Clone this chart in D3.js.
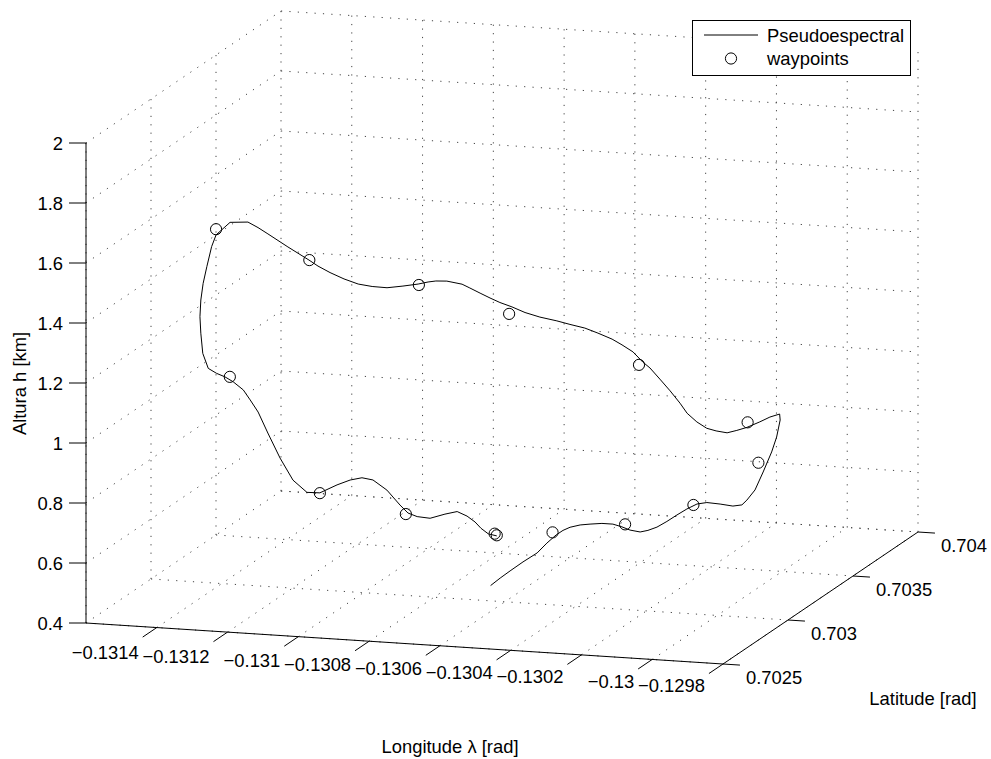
<!DOCTYPE html>
<html>
<head>
<meta charset="utf-8">
<script src="https://cdn.jsdelivr.net/npm/d3@7"></script>
<style>
  body { margin: 0; background: #fff; }
  text { font-family: "Liberation Sans", Arial, Helvetica, sans-serif; font-size: 18.4px; fill: #000; }
</style>
</head>
<body>
<svg id="chart" width="991" height="759"></svg>
<script>
// Axis limits and ticks
const lonDomain = [-0.1316, -0.1298];
const latDomain = [0.7025, 0.704];
const hDomain = [0.4, 2];
const lonTicks = [-0.1314, -0.1312, -0.131, -0.1308, -0.1306, -0.1304, -0.1302, -0.13, -0.1298];
const lonTickLabels = ["\u22120.1314", "\u22120.1312", "\u22120.131", "\u22120.1308", "\u22120.1306", "\u22120.1304", "\u22120.1302", "\u22120.13", "\u22120.1298"];
const latTicks = [0.7025, 0.703, 0.7035, 0.704];
const latTickLabels = ["0.7025", "0.703", "0.7035", "0.704"];
const hTicks = [0.4, 0.6, 0.8, 1.0, 1.2, 1.4, 1.6, 1.8, 2.0];
const hTickLabels = ["0.4", "0.6", "0.8", "1", "1.2", "1.4", "1.6", "1.8", "2"];

// Pseudospectral trajectory: longitude [rad], latitude [rad], altitude [km]
const trajLon = [-0.130622, -0.130595, -0.130567, -0.130536, -0.130496, -0.130474, -0.130448, -0.130434, -0.130414, -0.130391,
  -0.130363, -0.130335, -0.130304, -0.130284, -0.130261, -0.130238, -0.130216, -0.130196, -0.130168, -0.130145,
  -0.130117, -0.130094, -0.130066, -0.130034, -0.129998, -0.129978, -0.129964, -0.129952, -0.129940, -0.129927,
  -0.129924, -0.129925, -0.129932, -0.129965, -0.129999, -0.130041, -0.130075, -0.130108, -0.130139, -0.130171,
  -0.130199, -0.130232, -0.130252, -0.130280, -0.130309, -0.130337, -0.130357, -0.130385, -0.130416, -0.130444,
  -0.130484, -0.130521, -0.130563, -0.130600, -0.130648, -0.130690, -0.130727, -0.130761, -0.130789, -0.130817,
  -0.130846, -0.130868, -0.130911, -0.130942, -0.130964, -0.130992, -0.131035, -0.131080, -0.131122, -0.131156,
  -0.131196, -0.131230, -0.131264, -0.131284, -0.131338, -0.131389, -0.131417, -0.131440, -0.131485, -0.131519,
  -0.131526, -0.131534, -0.131539, -0.131540, -0.131537, -0.131529, -0.131518, -0.131497, -0.131468, -0.131439,
  -0.131410, -0.131376, -0.131351, -0.131323, -0.131290, -0.131250, -0.131208, -0.131163, -0.131121, -0.131067,
  -0.131030, -0.130991, -0.130960, -0.130915, -0.130878, -0.130850, -0.130824, -0.130782, -0.130740, -0.130700,
  -0.130672, -0.130644, -0.130627, -0.130601, -0.130577];
const trajLat = [0.70295, 0.70295, 0.70295, 0.702965, 0.702965, 0.70298, 0.70298, 0.702995, 0.702995, 0.70301,
  0.70301, 0.703025, 0.703025, 0.70304, 0.70304, 0.703055, 0.703055, 0.70307, 0.70307, 0.703085,
  0.703085, 0.7031, 0.7031, 0.703115, 0.703115, 0.70313, 0.70313, 0.70316, 0.70319, 0.70322,
  0.70325, 0.70328, 0.703295, 0.70331, 0.703325, 0.70334, 0.703355, 0.70337, 0.70337, 0.703385,
  0.703385, 0.7034, 0.7034, 0.7034, 0.7034, 0.7034, 0.7034, 0.7034, 0.7034, 0.7034,
  0.7034, 0.7034, 0.7034, 0.7034, 0.7034, 0.7034, 0.7034, 0.7034, 0.7034, 0.7034,
  0.7034, 0.7034, 0.7034, 0.7034, 0.7034, 0.7034, 0.7034, 0.7034, 0.7034, 0.703385,
  0.703385, 0.70337, 0.70337, 0.703355, 0.70334, 0.703325, 0.703325, 0.70331, 0.703295, 0.70328,
  0.703265, 0.70325, 0.703235, 0.70322, 0.703205, 0.70319, 0.703175, 0.70316, 0.703145, 0.70313,
  0.703115, 0.7031, 0.703085, 0.70307, 0.703055, 0.70304, 0.703025, 0.70301, 0.702995, 0.70298,
  0.70298, 0.702965, 0.702965, 0.70295, 0.70295, 0.702935, 0.702935, 0.70292, 0.70292, 0.702905,
  0.702905, 0.70289, 0.70289, 0.702875, 0.702875];
const trajH = [0.467, 0.494, 0.520, 0.548, 0.581, 0.611, 0.640, 0.652, 0.664, 0.669,
  0.674, 0.674, 0.674, 0.662, 0.653, 0.644, 0.651, 0.659, 0.680, 0.699,
  0.721, 0.735, 0.742, 0.735, 0.731, 0.732, 0.749, 0.775, 0.827, 0.886,
  0.927, 0.975, 0.990, 0.973, 0.950, 0.924, 0.907, 0.892, 0.896, 0.898,
  0.917, 0.939, 0.971, 1.010, 1.047, 1.082, 1.100, 1.132, 1.153, 1.170,
  1.187, 1.201, 1.210, 1.219, 1.228, 1.240, 1.256, 1.268, 1.281, 1.295,
  1.310, 1.321, 1.328, 1.326, 1.321, 1.312, 1.302, 1.293, 1.294, 1.304,
  1.318, 1.341, 1.360, 1.383, 1.427, 1.471, 1.490, 1.511, 1.511, 1.471,
  1.436, 1.373, 1.321, 1.270, 1.219, 1.169, 1.107, 1.063, 1.053, 1.048,
  1.038, 1.018, 0.991, 0.957, 0.894, 0.818, 0.752, 0.719, 0.725, 0.760,
  0.779, 0.794, 0.789, 0.763, 0.716, 0.696, 0.686, 0.688, 0.705, 0.721,
  0.708, 0.695, 0.675, 0.663, 0.658];

// Waypoints
const wpLon = [-0.130583, -0.130458, -0.130275, -0.130104, -0.129959, -0.130039, -0.130368, -0.130735,
  -0.130990, -0.131283, -0.131519, -0.131425, -0.131121, -0.130856, -0.130577];
const wpLat = [0.702875, 0.70298, 0.70304, 0.7031, 0.703205, 0.70334, 0.7034, 0.7034,
  0.7034, 0.703355, 0.70328, 0.70313, 0.702995, 0.702935, 0.702875];
const wpH = [0.665, 0.648, 0.671, 0.731, 0.852, 0.941, 1.090, 1.232,
  1.309, 1.383, 1.490, 1.049, 0.724, 0.692, 0.660];

const legendLabels = ["Pseudoespectral", "waypoints"];

// Orthographic view of the axes box: screen origin and edge vectors (px)
const origin = [86, 623];
const lonEdge = [637, 41];
const latEdge = [195, -132];
const hEdge = [0, -480];
const tickLen = 17;
const markerR = 5.6;

const sLon = d3.scaleLinear().domain(lonDomain).range([0, 1]);
const sLat = d3.scaleLinear().domain(latDomain).range([0, 1]);
const sH = d3.scaleLinear().domain(hDomain).range([0, 1]);

function proj(lon, lat, h) {
  const a = sLon(lon), b = sLat(lat), c = sH(h);
  return [origin[0] + a * lonEdge[0] + b * latEdge[0] + c * hEdge[0],
          origin[1] + a * lonEdge[1] + b * latEdge[1] + c * hEdge[1]];
}

const svg = d3.select("#chart");
const [lon0, lon1] = lonDomain, [lat0, lat1] = latDomain, [h0, h1] = hDomain;

// Grid on the three far planes
const gridSegs = [];
lonTicks.forEach(v => { gridSegs.push([proj(v, lat1, h0), proj(v, lat1, h1)]); gridSegs.push([proj(v, lat0, h0), proj(v, lat1, h0)]); });
latTicks.forEach(v => { gridSegs.push([proj(lon0, v, h0), proj(lon0, v, h1)]); gridSegs.push([proj(lon0, v, h0), proj(lon1, v, h0)]); });
hTicks.forEach(v => { gridSegs.push([proj(lon0, lat1, v), proj(lon1, lat1, v)]); gridSegs.push([proj(lon0, lat0, v), proj(lon0, lat1, v)]); });

svg.append("g").selectAll("line").data(gridSegs).join("line")
  .attr("x1", d => d[0][0]).attr("y1", d => d[0][1])
  .attr("x2", d => d[1][0]).attr("y2", d => d[1][1])
  .attr("stroke", "#444").attr("stroke-width", 1)
  .attr("stroke-dasharray", "1.2 7.2");

// Axis lines
const axes = svg.append("g").attr("stroke", "#000").attr("stroke-width", 1).attr("fill", "none");
const axisSegs = [
  [proj(lon0, lat0, h0), proj(lon0, lat0, h1)],
  [proj(lon0, lat0, h0), proj(lon1, lat0, h0)],
  [proj(lon1, lat0, h0), proj(lon1, lat1, h0)]
];
axes.selectAll("line.ax").data(axisSegs).join("line").attr("class", "ax")
  .attr("x1", d => d[0][0]).attr("y1", d => d[0][1])
  .attr("x2", d => d[1][0]).attr("y2", d => d[1][1]);

const latLen = Math.hypot(latEdge[0], latEdge[1]);
const lonLen = Math.hypot(lonEdge[0], lonEdge[1]);
const latDir = [latEdge[0] / latLen, latEdge[1] / latLen];
const lonDir = [lonEdge[0] / lonLen, lonEdge[1] / lonLen];

// Altitude ticks and labels
hTicks.forEach((v, i) => {
  const p = proj(lon0, lat0, v);
  axes.append("line").attr("x1", p[0]).attr("y1", p[1]).attr("x2", p[0] - tickLen).attr("y2", p[1]);
  svg.append("text").attr("x", p[0] - 23).attr("y", p[1]).attr("dy", "0.36em")
    .attr("text-anchor", "end").text(hTickLabels[i]);
});

// Longitude ticks and labels
lonTicks.forEach((v, i) => {
  const p = proj(v, lat0, h0);
  axes.append("line").attr("x1", p[0]).attr("y1", p[1])
    .attr("x2", p[0] - tickLen * latDir[0]).attr("y2", p[1] - tickLen * latDir[1]);
  const u = sLon(v);
  svg.append("text").attr("x", p[0] - 18).attr("y", p[1] + 25.4 - 4.4 * u).attr("dy", "0.36em")
    .attr("text-anchor", "end").text(lonTickLabels[i]);
});

// Latitude ticks and labels
latTicks.forEach((v, i) => {
  const p = proj(lon1, v, h0);
  axes.append("line").attr("x1", p[0]).attr("y1", p[1])
    .attr("x2", p[0] + tickLen * lonDir[0]).attr("y2", p[1] + tickLen * lonDir[1]);
  svg.append("text").attr("x", p[0] + 23).attr("y", p[1] + 13).attr("dy", "0.36em")
    .attr("text-anchor", "start").text(latTickLabels[i]);
});

// Axis titles
svg.append("text").attr("transform", "translate(19.5,383.5) rotate(-90)")
  .attr("text-anchor", "middle").attr("dy", "0.36em").text("Altura h [km]");
svg.append("text").attr("x", 450).attr("y", 746).attr("dy", "0.36em")
  .attr("text-anchor", "middle").text("Longitude \u03bb [rad]");
svg.append("text").attr("x", 923).attr("y", 698).attr("dy", "0.36em")
  .attr("text-anchor", "middle").text("Latitude [rad]");

// Trajectory
const trajPts = trajLon.map((v, i) => proj(v, trajLat[i], trajH[i]));
svg.append("path").attr("d", d3.line()(trajPts))
  .attr("fill", "none").attr("stroke", "#000").attr("stroke-width", 1);

// Waypoints
const wpPts = wpLon.map((v, i) => proj(v, wpLat[i], wpH[i]));
svg.append("g").selectAll("circle").data(wpPts).join("circle")
  .attr("cx", d => d[0]).attr("cy", d => d[1]).attr("r", markerR)
  .attr("fill", "none").attr("stroke", "#000").attr("stroke-width", 1);

// Legend
const lg = svg.append("g");
lg.append("rect").attr("x", 692.5).attr("y", 20.5).attr("width", 218).attr("height", 55)
  .attr("fill", "#fff").attr("stroke", "#000").attr("stroke-width", 1);
lg.append("line").attr("x1", 704).attr("y1", 35).attr("x2", 758).attr("y2", 35)
  .attr("stroke", "#000").attr("stroke-width", 1);
lg.append("circle").attr("cx", 731).attr("cy", 58.5).attr("r", markerR)
  .attr("fill", "none").attr("stroke", "#000").attr("stroke-width", 1);
lg.append("text").attr("x", 767).attr("y", 35).attr("dy", "0.36em").text(legendLabels[0]);
lg.append("text").attr("x", 767).attr("y", 58.5).attr("dy", "0.36em").text(legendLabels[1]);
</script>
</body>
</html>
